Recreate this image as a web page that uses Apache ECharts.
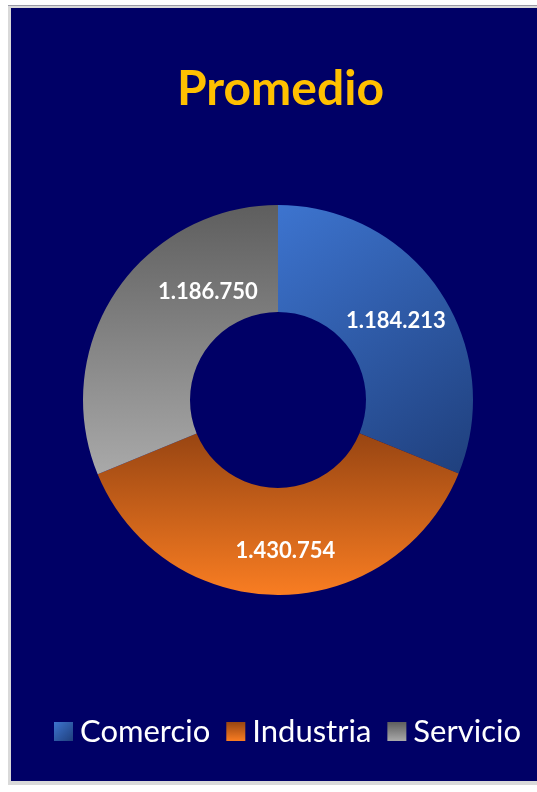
<!DOCTYPE html>
<html>
<head>
<meta charset="utf-8">
<script src="https://cdn.jsdelivr.net/npm/echarts@6/dist/echarts.min.js"></script>
<style>
  html, body { margin: 0; padding: 0; background: #ffffff; }
  #frame {
    position: absolute; left: 8px; top: 5px; width: 529px; height: 779px;
    background: #d9d9d9; border-top: 1px solid #9a9aa6;
  }
  #promedio {
    position: absolute; left: 11px; top: 8px; width: 526px; height: 773px;
    background: #000066;
  }
</style>
</head>
<body>
<div id="frame"></div>
<div id="promedio"></div>
<script>
// datos del grafico
const sectores = ['Comercio', 'Industria', 'Servicio'];
const promedios = [1184213, 1430754, 1186750];

// colores degradados (inicio, fin) por sector
const coloresIni = ['#3d74cf', '#984512', '#5e5e5e'];
const coloresFin = ['#1f3f7c', '#f97d22', '#a9a9a9'];
const direccion = [[0, 0, 1, 1], [0, 0, 0, 1], [0, 0, 0, 1]];

// desplazamiento de las etiquetas (como en Excel)
const desplaza = [[-2, 2], [7, 6], [50, -28]];

const fmt = v => v.toString().replace(/\B(?=(\d{3})+(?!\d))/g, '.');

const chartDom = document.getElementById('promedio');
const myChart = echarts.init(chartDom);

const datos = sectores.map((name, i) => ({
    name: name,
    value: promedios[i],
    itemStyle: {
        color: new echarts.graphic.LinearGradient(
            direccion[i][0], direccion[i][1], direccion[i][2], direccion[i][3],
            [{ offset: 0, color: coloresIni[i] }, { offset: 1, color: coloresFin[i] }]
        )
    }
}));

const option = {
    backgroundColor: '#000066',
    animation: false,
    title: {
        text: 'Promedio',
        left: 161,
        top: 53,
        textStyle: {
            color: '#ffc000',
            fontFamily: 'Lato',
            fontWeight: 'bold',
            fontSize: 48
        }
    },
    legend: {
        data: sectores,
        left: 43,
        top: 708,
        padding: 0,
        icon: 'rect',
        itemWidth: 19,
        itemHeight: 19,
        itemGap: 16,
        textStyle: {
            color: '#ffffff',
            fontFamily: 'Lato',
            fontSize: 31,
            padding: [0, 0, 0, 2]
        }
    },
    series: [{
        type: 'pie',
        center: [267, 392],
        radius: [88, 195],
        startAngle: 90,
        clockwise: true,
        avoidLabelOverlap: false,
        label: {
            show: true,
            position: 'inside',
            color: '#ffffff',
            fontFamily: 'Lato',
            fontWeight: 'bold',
            fontSize: 22,
            formatter: p => fmt(p.value)
        },
        labelLayout: p => ({ dx: desplaza[p.dataIndex][0], dy: desplaza[p.dataIndex][1] }),
        labelLine: { show: false },
        emphasis: { disabled: true },
        data: datos
    }]
};

myChart.setOption(option);
</script>
</body>
</html>
